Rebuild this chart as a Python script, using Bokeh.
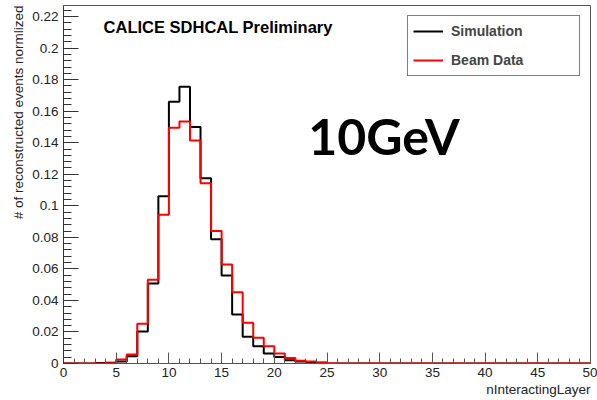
import numpy as np
from bokeh.plotting import figure
from bokeh.models import Range1d, Label, Legend, LegendItem, FixedTicker, Title
from bokeh.embed import file_html
from bokeh.resources import INLINE

# bin edges (nInteractingLayer), 50 bins of width 1
bin_edges = list(range(0, 51))

simulation = [0, 0, 0, 0.0003, 0.0004, 0.0012, 0.0046, 0.0203, 0.0507, 0.106,
              0.166, 0.1755, 0.150, 0.1175, 0.0788, 0.0558, 0.0311, 0.0169, 0.011, 0.0063,
              0.0042, 0.002, 0.0012, 0.0008, 0.0004, 0, 0, 0, 0, 0,
              0, 0, 0, 0, 0, 0, 0, 0, 0, 0,
              0, 0, 0, 0, 0, 0, 0, 0, 0, 0]

beam_data = [0, 0, 0, 0, 0.0002, 0.0025, 0.0057, 0.0252, 0.0531, 0.0943,
             0.1495, 0.1535, 0.1414, 0.1143, 0.0840, 0.0628, 0.0452, 0.0258, 0.0163, 0.011,
             0.0063, 0.0035, 0.0018, 0.0012, 0.0006, 0, 0, 0, 0, 0,
             0, 0, 0, 0, 0, 0, 0, 0, 0, 0,
             0, 0, 0, 0, 0, 0, 0, 0, 0, 0]

x_ticks = [0, 5, 10, 15, 20, 25, 30, 35, 40, 45, 50]
y_ticks = [0, 0.02, 0.04, 0.06, 0.08, 0.1, 0.12, 0.14, 0.16, 0.18, 0.2, 0.22]
y_minor = [round(i * 0.004, 4) for i in range(0, 57)]
x_minor = list(range(0, 51))

FONT = "Liberation Sans"

p = figure(width=597, height=400, output_backend="svg", toolbar_location=None,
           x_range=Range1d(0, 50), y_range=Range1d(0, 0.227),
           min_border_left=63, min_border_right=7, min_border_top=5, min_border_bottom=37)
p.background_fill_color = "white"
p.border_fill_color = "white"
p.outline_line_color = "#555555"
p.outline_line_width = 1
p.xgrid.visible = False
p.ygrid.visible = False

# axes with ROOT-like inside ticks
p.xaxis.ticker = FixedTicker(ticks=x_ticks, minor_ticks=x_minor)
p.xaxis.major_tick_in = 11
p.xaxis.major_tick_out = 0
p.xaxis.minor_tick_in = 5
p.xaxis.minor_tick_out = 0
p.xaxis.major_label_text_font = FONT
p.xaxis.major_label_text_font_size = "13.5px"
p.xaxis.major_label_text_color = "#222222"
p.xaxis.major_label_standoff = 4
p.xaxis.axis_line_color = "#555555"
p.xaxis.major_tick_line_color = "#555555"
p.xaxis.minor_tick_line_color = "#555555"

p.yaxis.ticker = FixedTicker(ticks=y_ticks, minor_ticks=y_minor)
p.yaxis.major_tick_in = 15
p.yaxis.major_tick_out = 0
p.yaxis.minor_tick_in = 8
p.yaxis.minor_tick_out = 0
p.yaxis.major_label_text_font = FONT
p.yaxis.major_label_text_font_size = "13.5px"
p.yaxis.major_label_text_color = "#222222"
p.yaxis.major_label_standoff = 5
p.yaxis.major_label_overrides = {0: "0", 0.1: "0.1", 0.2: "0.2"}
p.yaxis.axis_line_color = "#333333"
p.yaxis.major_tick_line_color = "#333333"
p.yaxis.minor_tick_line_color = "#333333"

# axis titles (ROOT style: aligned to the end of the axis)
p.add_layout(Title(text="# of reconstructed events normlized", align="right",
                   text_font=FONT, text_font_size="13.5px", text_font_style="normal",
                   text_color="#222222", standoff=8, offset=0), "left")
p.add_layout(Title(text="nInteractingLayer", align="right",
                   text_font=FONT, text_font_size="13.5px", text_font_style="normal",
                   text_color="#222222", standoff=0, offset=0), "below")

# histogram step lines
sim_y = simulation + [simulation[-1]]
dat_y = beam_data + [beam_data[-1]]
r_sim = p.step(x=bin_edges, y=sim_y, mode="after", line_color="black", line_width=2)
r_dat = p.step(x=bin_edges, y=dat_y, mode="after", line_color="red", line_width=2)

legend = Legend(items=[LegendItem(label="Simulation", renderers=[r_sim]),
                       LegendItem(label="Beam Data", renderers=[r_dat])],
                location="top_right")
legend.label_text_font = FONT
legend.label_text_font_style = "bold"
legend.label_text_font_size = "14px"
legend.border_line_color = "black"
legend.border_line_width = 1
legend.glyph_width = 30
legend.glyph_height = 20
legend.label_height = 20
legend.label_width = 123
legend.spacing = 9
legend.padding = 5
legend.margin = 10
legend.label_standoff = 8
legend.background_fill_alpha = 1
p.add_layout(legend)

p.add_layout(Label(x=3.8, y=0.2135, text="CALICE SDHCAL Preliminary",
                   text_font=FONT, text_font_style="bold", text_font_size="16.5px",
                   text_align="left", text_baseline="middle", text_color="black"))

p.add_layout(Label(x=30.4, y=0.144, text="10GeV",
                   text_font="Lato", text_font_style="bold", text_font_size="50px",
                   text_align="center", text_baseline="middle", text_color="black"))

open("out.html", "w").write(file_html(p, INLINE))
